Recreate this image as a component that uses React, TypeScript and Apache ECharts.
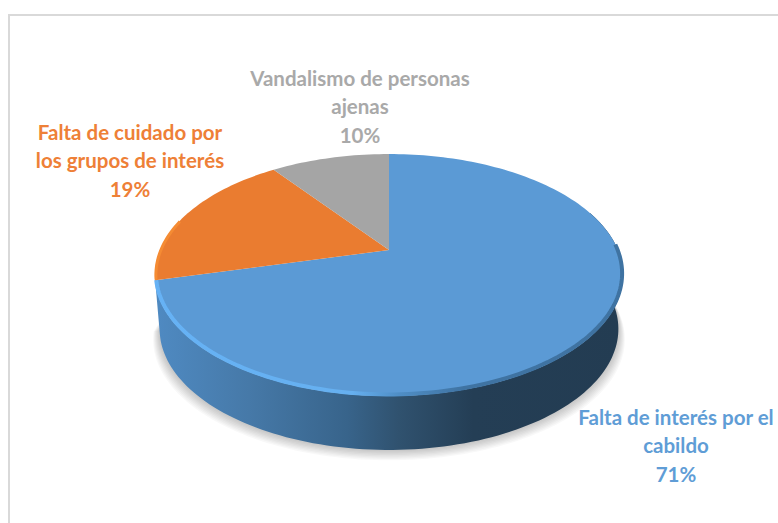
import React, { useEffect, useRef } from "react";
import * as echarts from "echarts";

const categories = [
  "Falta de interés por el\ncabildo",
  "Falta de cuidado por\nlos grupos de interés",
  "Vandalismo de personas\najenas",
];
const values = [71, 19, 10];
const sliceColors = ["#5b9ad5", "#ea7c30", "#a5a5a5"];
const labelColors = ["#5f9dd6", "#ee8037", "#a9a9a9"];

// Layout of the tilted disc, seen in perspective
const APEX_X = 389;
const APEX_Y = 250;
const SCALE_X = 229;
const SCALE_Y = 115.8;
const PERSPECTIVE = 0.2066;
const DEPTH = 54;
const BASE_SHRINK = 0.98;
const LABEL_POS = [
  [676, 445],
  [130, 160],
  [360, 106],
];
const FONT = "Lato, 'Open Sans', sans-serif";
const SHADOW_LAYERS = [8, 7, 6, 5, 4, 3, 2, 1];

const total = values.reduce((a, b) => a + b, 0);

function project(deg: number, shrink = 1, dy = 0): [number, number] {
  const t = (deg * Math.PI) / 180;
  const u = Math.sin(t);
  const v = -Math.cos(t);
  const w = 1 - PERSPECTIVE * v;
  return [APEX_X + (shrink * SCALE_X * u) / w, APEX_Y + dy + (SCALE_Y * v) / w];
}

function arc(from: number, to: number, shrink = 1, dy = 0): [number, number][] {
  const n = Math.max(2, Math.ceil(Math.abs(to - from) / 1.5));
  const pts: [number, number][] = [];
  for (let i = 0; i <= n; i++) pts.push(project(from + ((to - from) * i) / n, shrink, dy));
  return pts;
}

const hGradient = (stops: [number, string][]) => ({
  type: "linear",
  x: 0,
  y: 0,
  x2: 1,
  y2: 0,
  colorStops: stops.map(([offset, color]) => ({ offset, color })),
});

const renderItem = (params: any, api: any) => {
  const i = params.dataIndex;
  const value = api.value(0) as number;
  let before = 0;
  for (let k = 0; k < i; k++) before += values[k];
  const start = (before / total) * 360;
  const end = ((before + value) / total) * 360;
  const children: any[] = [];

  if (i === 0) {
    SHADOW_LAYERS.forEach((s) => {
      children.push({
        type: "polygon",
        shape: { points: arc(65, 262, BASE_SHRINK + 0.0035 * s, DEPTH + 1.3 * s) },
        style: { fill: "rgba(0,0,0,0.028)" },
      });
    });
    const from = Math.max(start, 70);
    const side = [...arc(from, end), ...arc(end, from, BASE_SHRINK, DEPTH)];
    children.push({
      type: "polygon",
      shape: { points: side },
      style: {
        fill: hGradient([
          [0, "#4f8ac2"],
          [0.2, "#4679a8"],
          [0.41, "#38648b"],
          [0.52, "#30526f"],
          [0.68, "#243e55"],
          [1, "#233c52"],
        ]),
      },
    });
  }

  children.push({
    type: "polygon",
    shape: { points: [[APEX_X, APEX_Y], ...arc(start, end)] },
    style: { fill: sliceColors[i] },
  });

  if (i === 0) {
    children.push({
      type: "polyline",
      shape: { points: arc(Math.max(start, 88), end - 0.5, 0.996, -1.5) },
      style: {
        fill: "none",
        lineWidth: 4,
        stroke: hGradient([
          [0, "#66b2f5"],
          [0.42, "#66b0f0"],
          [0.52, "#4f8ec6"],
          [0.66, "#3f73a2"],
          [1, "#3f73a2"],
        ]),
      },
    });
  }
  if (i === 1) {
    children.push({
      type: "polyline",
      shape: { points: arc(start + 0.3, 285, 0.996, 0) },
      style: { fill: "none", lineWidth: 3, stroke: "#f58b33" },
    });
  }

  const pct = Math.round((value / total) * 100);
  children.push({
    type: "text",
    x: LABEL_POS[i][0],
    y: LABEL_POS[i][1],
    style: {
      text: `${categories[i]}\n${pct}%`,
      fill: labelColors[i],
      fontFamily: FONT,
      fontWeight: "bold",
      fontSize: 20.5,
      lineHeight: 28.5,
      align: "center",
      verticalAlign: "middle",
    },
  });
  return { type: "group", children };
};

export default function App() {
  const ref = useRef<HTMLDivElement>(null);
  useEffect(() => {
    const chart = echarts.init(ref.current!, undefined, { renderer: "svg" });
    chart.setOption({
      animation: false,
      backgroundColor: "#ffffff",
      graphic: [
        {
          type: "polyline",
          shape: { points: [[9, 523], [9, 15], [778, 15]] },
          style: { fill: "none", stroke: "#d9d9d9", lineWidth: 2 },
          z: 0,
        },
      ],
      series: [
        {
          type: "custom",
          coordinateSystem: "none",
          renderItem,
          data: categories.map((name, i) => ({ name, value: [values[i]] })),
          z: 2,
        },
      ],
    });
    return () => chart.dispose();
  }, []);
  return <div ref={ref} style={{ position: "fixed", left: 0, top: 0, width: 778, height: 523 }} />;
}
